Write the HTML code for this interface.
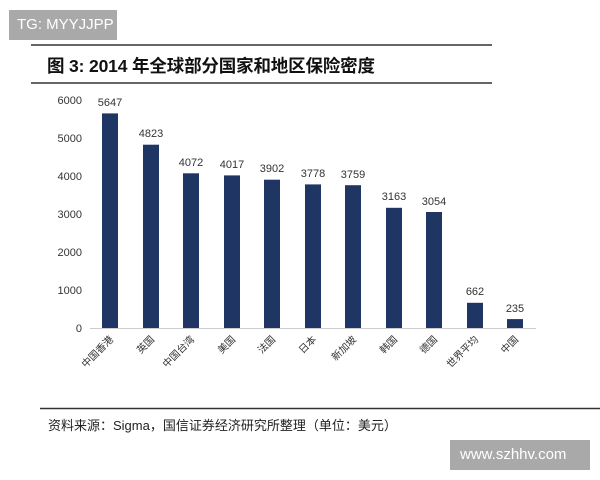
<!DOCTYPE html>
<html><head><meta charset="utf-8"><style>
body{margin:0;background:#fff;width:600px;height:480px;overflow:hidden;position:relative;font-family:"Liberation Sans","Noto Sans CJK SC",sans-serif}
.box{position:absolute;background:#a9a9a9;color:#fff;font-size:15px}
</style></head><body>
<div class="box" style="left:9px;top:10px;width:108px;height:30px;line-height:30px;padding-left:8px;box-sizing:border-box">TG: MYYJJPP</div>
<div class="box" style="left:450px;top:440px;width:140px;height:30px;line-height:30px;padding-left:10px;box-sizing:border-box">www.szhhv.com</div>
<svg width="600" height="480" style="position:absolute;left:0;top:0" font-family="Liberation Sans, Noto Sans CJK SC, sans-serif">
<line x1="31" y1="45" x2="492" y2="45" stroke="#333" stroke-width="1.5"/>
<line x1="31" y1="83" x2="492" y2="83" stroke="#333" stroke-width="1.5"/>
<text x="47" y="72" font-size="17.5" font-weight="bold" fill="#111" textLength="328">图 3:  2014 年全球部分国家和地区保险密度</text>
<g font-size="11" fill="#333" text-anchor="end">
<text x="82" y="104">6000</text><text x="82" y="142">5000</text><text x="82" y="180">4000</text><text x="82" y="218">3000</text><text x="82" y="256">2000</text><text x="82" y="294">1000</text><text x="82" y="332">0</text>
</g>
<line x1="90" y1="328.5" x2="536" y2="328.5" stroke="#ccc"/>
<g fill="#1f3564">
<rect x="102" y="113.4" width="16" height="214.6"/>
<rect x="143" y="144.7" width="16" height="183.3"/>
<rect x="183" y="173.3" width="16" height="154.7"/>
<rect x="224" y="175.4" width="16" height="152.6"/>
<rect x="264" y="179.7" width="16" height="148.3"/>
<rect x="305" y="184.4" width="16" height="143.6"/>
<rect x="345" y="185.2" width="16" height="142.8"/>
<rect x="386" y="207.8" width="16" height="120.2"/>
<rect x="426" y="212" width="16" height="116"/>
<rect x="467" y="302.8" width="16" height="25.2"/>
<rect x="507" y="319.1" width="16" height="8.9"/>
</g>
<g font-size="11" fill="#333" text-anchor="middle">
<text x="110" y="106">5647</text><text x="151" y="137">4823</text><text x="191" y="166">4072</text><text x="232" y="168">4017</text><text x="272" y="172">3902</text><text x="313" y="177">3778</text><text x="353" y="178">3759</text><text x="394" y="200">3163</text><text x="434" y="205">3054</text><text x="475" y="295">662</text><text x="515" y="312">235</text>
</g>
<g font-size="10" fill="#333" text-anchor="end">
<text transform="translate(114,340) rotate(-45)">中国香港</text>
<text transform="translate(155,340) rotate(-45)">英国</text>
<text transform="translate(195,340) rotate(-45)">中国台湾</text>
<text transform="translate(236,340) rotate(-45)">美国</text>
<text transform="translate(276,340) rotate(-45)">法国</text>
<text transform="translate(317,340) rotate(-45)">日本</text>
<text transform="translate(357,340) rotate(-45)">新加坡</text>
<text transform="translate(398,340) rotate(-45)">韩国</text>
<text transform="translate(438,340) rotate(-45)">德国</text>
<text transform="translate(479,340) rotate(-45)">世界平均</text>
<text transform="translate(519,340) rotate(-45)">中国</text>
</g>
<line x1="40" y1="408.5" x2="600" y2="408.5" stroke="#333" stroke-width="1.5"/>
<text x="48" y="430" font-size="13" fill="#222">资料来源：Sigma，国信证券经济研究所整理（单位：美元）</text>
</svg>
</body></html>
